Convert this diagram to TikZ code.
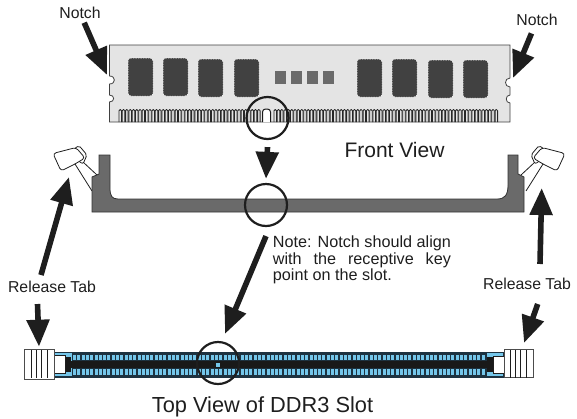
\documentclass[tikz,border=0pt]{standalone}
\usepackage{fontspec}
\setmainfont{Liberation Sans}
\usetikzlibrary{arrows.meta}
\definecolor{inkdark}{HTML}{1E1E1E}
\definecolor{boardgray}{HTML}{E4E4E4}
\definecolor{chipgray}{HTML}{414141}
\definecolor{slotgray}{HTML}{6A6A6A}
\definecolor{slotblue}{HTML}{74C6EA}
\definecolor{slotdark}{HTML}{1D3240}
\tikzset{
    bigarrow/.style={line width=5.6pt, color=inkdark, -{Triangle[width=22pt,length=27pt]}},
    keycircle/.style={circle, draw=inkdark, line width=2.2pt, minimum size=42pt, inner sep=0pt},
    labeltext/.style={text=inkdark, inner sep=0pt, font=\fontsize{15.8}{16}\selectfont},
    viewtext/.style={text=inkdark, inner sep=0pt, font=\fontsize{21}{24}\selectfont},
    tabpart/.style={fill=white, draw=inkdark, line width=0.8pt},
}
\begin{document}
\begin{tikzpicture}[x=1pt,y=-1pt]
        \useasboundingbox (0,0) rectangle (577,418);
        % memory module
        \draw[fill=boardgray, draw=black!75, line width=0.8pt] (109.5,45) -- (510,45) -- (510,78)
            .. controls (504,78) and (504,87) .. (510,87) -- (510,95)
            .. controls (505,95) and (505,103) .. (510,103) -- (510,122) -- (109.5,122) -- (109.5,102)
            .. controls (115,102) and (115,95) .. (109.5,95) -- (109.5,84)
            .. controls (116,84) and (116,76) .. (109.5,76) -- cycle;
        \foreach \chipx/\chipy in {128/58,163/58,198/59,234/59,357/59,392/59,428/60,463/60}
            \draw[fill=chipgray, draw=white, line width=0.5pt, dash pattern=on 1.5pt off 1pt, rounded corners=3pt]
                (\chipx,\chipy) rectangle ++(25,38);
        \foreach \sqx in {275,291,307,323}
            \fill[slotgray] (\sqx,71) rectangle ++(11,13);
        \foreach \tx in {119,122.3,...,258}
            \draw[black!85, line width=0.8pt, rounded corners=1.2pt] (\tx,122) -- (\tx,109.5) -- (\tx+2.5,109.5) -- (\tx+2.5,122);
        \foreach \tx in {274,277.3,...,498}
            \draw[black!85, line width=0.8pt, rounded corners=1.2pt] (\tx,122) -- (\tx,109.5) -- (\tx+2.5,109.5) -- (\tx+2.5,122);
        \draw[black!90, line width=1pt, fill=white, rounded corners=3pt] (262.5,122) -- (262.5,109) -- (270.5,109) -- (270.5,122);
        % release tabs, front view
        \foreach \sx/\ox in {1/0,-1/618}{
            \begin{scope}[xshift=\ox pt, xscale=\sx]
                \draw[tabpart] (75,164) -- (92,191);
                \draw[tabpart] (83,162) -- (97,175);
                \draw[tabpart, rounded corners=2pt] (74,149) -- (79,145.5) -- (87,155) -- (83,164) -- (77,160) -- cycle;
                \draw[tabpart, rounded corners=3pt] (53,153.5) -- (76,147.5) -- (85,158) -- (75,164) -- (61,171) -- cycle;
            \end{scope}
        }
        % slot, front view
        \draw[fill=slotgray, draw=black!80, line width=0.8pt] (99,155) -- (110,155) -- (110,188)
            .. controls (110,196) and (112,199) .. (118,199) -- (497,199)
            .. controls (505,199) and (508,195) .. (508,185) -- (508,155) -- (518,155) -- (518,174) -- (524,177)
            -- (524,212) -- (92,212) -- (92,177) -- (99,174) -- cycle;
        % slot, top view
        \draw[fill=slotblue, draw=slotdark, line width=1.2pt] (54,352.5) rectangle (504,377);
        \fill[slotdark] (72,352.5) rectangle (487,361);
        \fill[slotdark] (72,368) rectangle (487,377);
        \foreach \tx in {73,77.3,...,484}{
            \fill[slotblue] (\tx,354.6) rectangle ++(3,5.6);
            \fill[slotblue] (\tx,369) rectangle ++(3,5.8);
        }
        \fill[black!90] (68,361) rectangle (490,368);
        \fill[black!90] (65,356.7) rectangle (70.7,372);
        \fill[black!90] (486.7,356.7) rectangle (493.3,372);
        \fill[slotblue] (216,362.5) rectangle ++(4,4);
        % latches, top view
        \draw[tabpart, line width=1pt] (54,355) -- (65,355) -- (65,373.5) -- (54,373.5);
        \draw[tabpart, line width=1pt] (504,356) -- (493.3,356) -- (493.3,373) -- (504,373);
        \draw[tabpart, line width=1pt, draw=black!70] (24.3,349.3) rectangle (54.3,379);
        \draw[tabpart, line width=1pt, draw=black!70] (504.3,349.3) rectangle (533.7,377.7);
        \foreach \lx in {31,36.7,41.7,47.3,510,515,520,526.7}
            \draw[inkdark, line width=0.8pt] (\lx,350) -- (\lx,377.5);
        % labels
        \node[labeltext] (notchl) at (80,13) {Notch};
        \node[labeltext] (notchr) at (537,20) {Notch};
        \node[viewtext] (frontview) at (394.5,150) {Front View};
        \node[viewtext, font=\fontsize{21.8}{24}\selectfont] (topview) at (262.5,407) {Top View of DDR3 Slot};
        \node[labeltext] (reltabl) at (52,287) {Release Tab};
        \node[labeltext] (reltabr) at (527,284) {Release Tab};
        \node[labeltext, text width=178pt, align=justify, font=\fontsize{16.2}{16.2}\selectfont, anchor=north west] (note) at (272.7,236)
            {Note: Notch should align with the receptive key point on the slot.};
        % key circles
        \node[keycircle] (modkey) at (267.5,118) {};
        \node[keycircle] (slotkey) at (266,205) {};
        \node[keycircle] (topkey) at (218,363) {};
        % arrow tips
        \coordinate (notchltip) at (107,75);
        \coordinate (notchrtip) at (513,78);
        \coordinate (tabltip) at (69,177);
        \coordinate (tabrtip) at (541.7,188);
        \coordinate (latchltip) at (39,346.7);
        \coordinate (latchrtip) at (524,343);
        % arrows
        \draw[bigarrow, shorten <=4pt] (notchl) -- (notchltip);
        \draw[bigarrow, shorten <=8pt] (notchr) -- (notchrtip);
        \draw[bigarrow] ([xshift=-11pt,yshift=6pt]reltabl.north) -- (tabltip);
        \draw[bigarrow] ([xshift=-14.5pt,yshift=-11pt]reltabl.south) -- (latchltip);
        \draw[bigarrow] ([xshift=13pt,yshift=14pt]reltabr.north) -- (tabrtip);
        \draw[bigarrow] ([xshift=10.7pt,yshift=-14pt]reltabr.south) -- (latchrtip);
        \draw[bigarrow] ([yshift=-7pt]modkey.south) -- ([yshift=4pt]slotkey.north);
        \draw[bigarrow] ([yshift=-9pt]slotkey.south) -- ([xshift=7pt,yshift=7pt]topkey.north);
    \end{tikzpicture}
\end{document}
